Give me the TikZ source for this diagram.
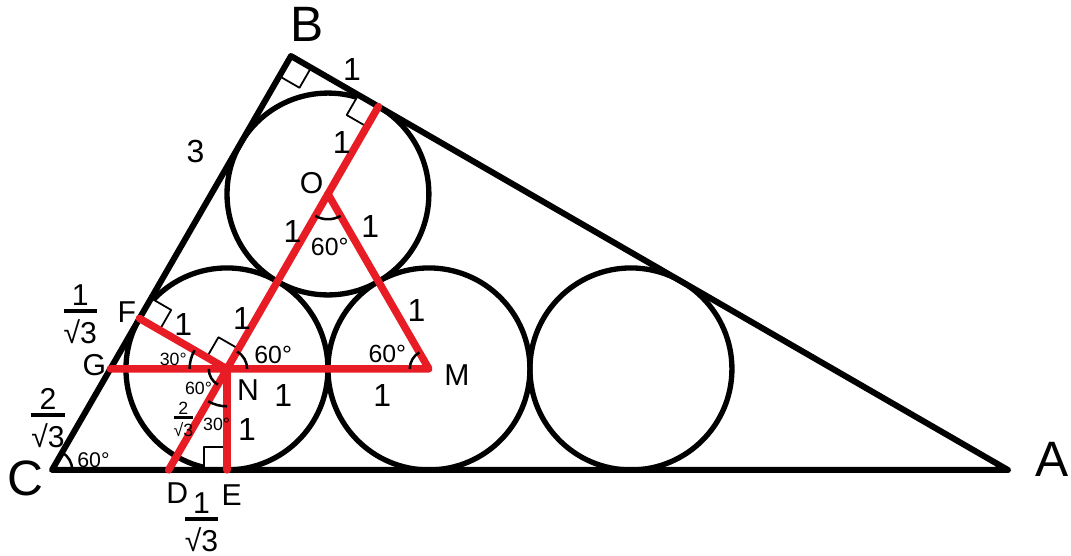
\documentclass[tikz,border=0pt]{standalone}
\usepackage{fontspec}
\setmainfont{Liberation Sans}
\usepackage{tkz-euclide}
\definecolor{SegClr}{rgb}{0.91,0.11,0.14}
\newcommand{\rootfrac}[2][1pt]{\vbox{\offinterlineskip\halign{\hfil##\hfil\cr
  #2\cr\noalign{\kern0.12em}\rule{1.1em}{#1}\cr\noalign{\kern0.22em}√3\cr}}}

\begin{document}
\begin{tikzpicture}[line join=round,
  vtxlbl/.style={font=\fontsize{14}{16}\selectfont},
  ptlbl/.style={font=\fontsize{8.5}{10}\selectfont},
  lenlbl/.style={font=\fontsize{9}{10}\selectfont},
  anglbl/.style={font=\fontsize{7}{8}\selectfont},
  tinylbl/.style={font=\fontsize{5}{6}\selectfont}]
\useasboundingbox (-0.515,-0.851) rectangle (10.089,4.653);

\tkzDefPoints{0/0/C,9.4641/0/A,2.3660/4.0981/B}
\tkzDefPoints{1.7321/1/N,3.7321/1/M,5.7321/1/P,2.7321/2.7321/O}
\tkzDefPoints{3.2321/3.5981/T,0.8660/1.5/F,0.5774/1/G,1.1547/0/D,1.7321/0/E}
\tkzDefPoints{3.7321/0/EM,5.7321/0/EP}

\tkzDrawCircles[line width=1.5pt,black](N,E M,EM P,EP O,T)

\tkzMarkRightAngles[line width=0.5pt,size=.23,color=black,fill=white](C,B,A B,T,O B,F,N F,N,O D,E,N)

\tkzDrawPolygon[line width=1.7pt,black](C,B,A)

\tkzDrawPolySeg[line width=2.1pt,color=SegClr](G,M,O,D)
\tkzDrawSegments[line width=2.1pt,color=SegClr](O,T N,F N,E)

\tkzMarkAngle[size=.2,line width=0.7pt](A,C,B)
\tkzMarkAngle[size=.37,line width=0.7pt](F,N,G)
\tkzMarkAngle[size=.2,line width=0.7pt](M,N,O)
\tkzMarkAngle[size=.18,line width=0.7pt](G,N,D)
\tkzMarkAngle[size=.37,line width=0.7pt](D,N,E)
\tkzMarkAngle[size=.25,line width=0.7pt](N,O,M)
\tkzMarkAngle[size=.19,line width=0.7pt](O,M,N)

% points
\node[vtxlbl] (lB) at (2.53,4.41) {B};
\node[vtxlbl] (lA) at (9.90,0.10) {A};
\node[vtxlbl] (lC) at (-0.26,-0.08) {C};
\node[ptlbl] (lO) at (2.57,2.84) {O};
\node[ptlbl] (lM) at (4.01,0.94) {M};
\node[ptlbl] (lN) at (1.94,0.79) {N};
\node[ptlbl] (lF) at (0.74,1.56) {F};
\node[ptlbl] (lG) at (0.42,1.04) {G};
\node[ptlbl] (lD) at (1.24,-0.23) {D};
\node[ptlbl] (lE) at (1.78,-0.25) {E};

% lengths
\node[lenlbl] (dBT) at (2.97,3.96) {1};
\node[lenlbl] (dFB) at (1.42,3.15) {3};
\node[lenlbl] (dOT) at (2.87,3.24) {1};
\node[lenlbl] (dON) at (2.38,2.36) {1};
\node[lenlbl] (dOM) at (3.15,2.41) {1};
\node[lenlbl] (dMO) at (3.61,1.58) {1};
\node[lenlbl] (dMN) at (3.27,0.74) {1};
\node[lenlbl] (dNM) at (2.29,0.74) {1};
\node[lenlbl] (dNO) at (1.88,1.50) {1};
\node[lenlbl] (dNF) at (1.30,1.44) {1};
\node[lenlbl] (dNE) at (1.93,0.40) {1};
\node[ptlbl] (dGF) at (0.28,1.54) {\rootfrac[1.1pt]{1}};
\node[ptlbl] (dCG) at (-0.04,0.51) {\rootfrac[1.1pt]{2}};
\node[ptlbl] (dDE) at (1.48,-0.52) {\rootfrac[1.1pt]{1}};
\node[tinylbl] (dND) at (1.30,0.50) {\rootfrac[0.7pt]{2}};

% angles
\node[anglbl] (aO) at (2.75,2.21) {60°};
\node[anglbl] (aM) at (3.32,1.15) {60°};
\node[anglbl] (aNO) at (2.19,1.14) {60°};
\node[tinylbl] (aNF) at (1.20,1.09) {30°};
\node[tinylbl] (aNG) at (1.45,0.81) {60°};
\node[tinylbl] (aNE) at (1.63,0.45) {30°};
\node[font=\fontsize{6}{7}\selectfont] (aC) at (0.41,0.10) {60°};
\end{tikzpicture}
\end{document}
